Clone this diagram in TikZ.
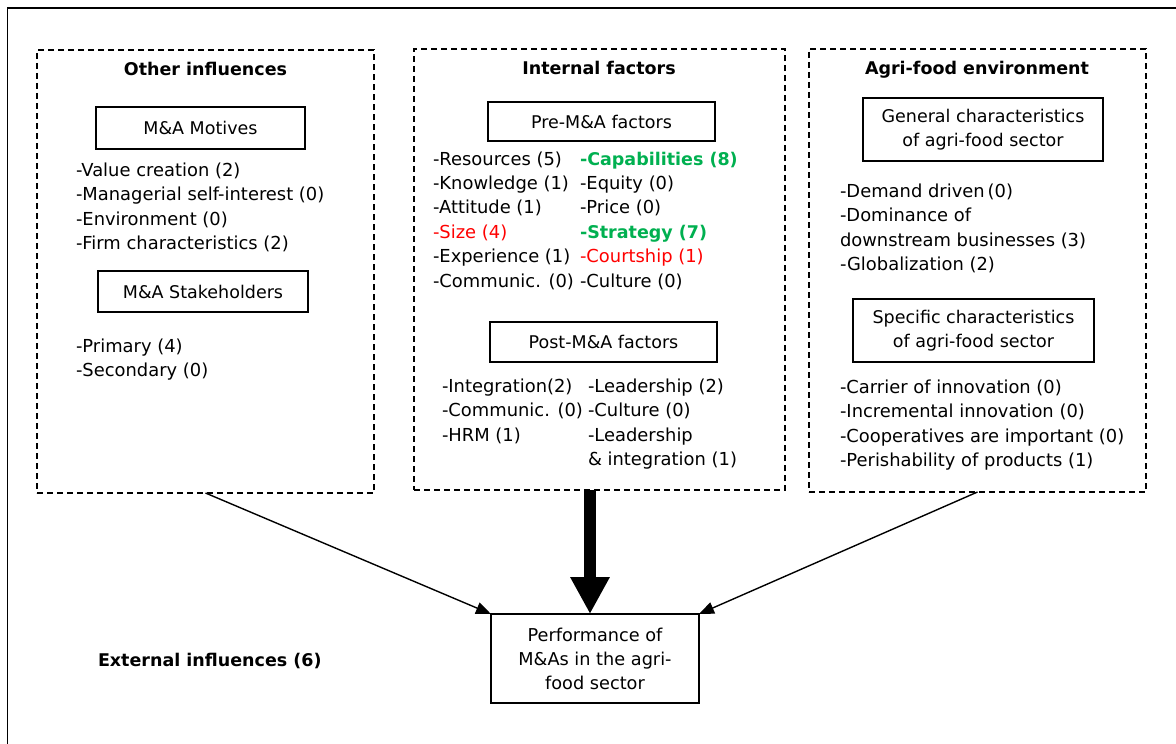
\documentclass[tikz,border=0pt]{standalone}
\usepackage{fontspec}
\setmainfont{DejaVu Sans}
\usetikzlibrary{arrows.meta}
\definecolor{hlgreen}{RGB}{0,176,80}
\definecolor{hlred}{RGB}{255,0,0}
\begin{document}
\begin{tikzpicture}[x=1pt,y=-1pt,
  every node/.style={font=\fontsize{17.5}{24.5}\selectfont, inner sep=0pt, outer sep=0pt},
  dbox/.style={draw, dash pattern=on 6pt off 4pt, line width=1.1pt},
  sbox/.style={draw, line width=1.2pt, align=center},
  item/.style={anchor=base west, font=\fontsize{17.9}{24.5}\selectfont},
  title/.style={anchor=base, font=\fontsize{17.5}{24.5}\selectfont\bfseries},
  good/.style={text=hlgreen, font=\fontsize{17.5}{24.5}\selectfont\bfseries},
  bad/.style={text=hlred},
  thin arrow/.style={line width=1.4pt, -{Triangle[length=15pt,width=12pt]}},
]
\useasboundingbox (0,0) rectangle (1176,744);
% outer frame (top and left edges)
\coordinate (fa) at (7.5,744);
\coordinate (fb) at (7.5,8);
\coordinate (fc) at (1176,8);
\draw[line width=1.5pt] (fa) -- (fb) -- (fc);

% dashed groups
\node[dbox, minimum width=337pt, minimum height=443pt] (other) at (205.5,271.5) {};
\node[dbox, minimum width=371pt, minimum height=441pt] (internal) at (599.5,269.5) {};
\node[dbox, minimum width=337pt, minimum height=443pt] (agri) at (977.5,270.5) {};

% ---- Other influences
\node[title] (t1) at (205.5,75) {Other influences};
\node[sbox, minimum width=209pt, minimum height=42pt] (motives) at (200.5,128) {M\&A Motives};
\node[item] (o1) at (76,176) {-Value creation (2)};
\node[item] (o2) at (76,200.5) {-Managerial self-interest (0)};
\node[item] (o3) at (76,225) {-Environment (0)};
\node[item] (o4) at (76,249.5) {-Firm characteristics (2)};
\node[sbox, minimum width=210pt, minimum height=41pt] (stake) at (203,291.5) {M\&A Stakeholders};
\node[item] (o5) at (76,352) {-Primary (4)};
\node[item] (o6) at (76,376.5) {-Secondary (0)};

% ---- Internal factors
\node[title] (t2) at (599,74) {Internal factors};
\node[sbox, minimum width=227pt, minimum height=39pt] (pre) at (601.5,121.5) {Pre-M\&A factors};
\node[item] (p1) at (433,165) {-Resources (5)};
\node[item] (p2) at (433,189.4) {-Knowledge (1)};
\node[item] (p3) at (433,213.8) {-Attitude (1)};
\node[item, bad] (p4) at (433,238.2) {-Size (4)};
\node[item] (p5) at (433,262.6) {-Experience (1)};
\node[item] (p6) at (433,287) {-Communic. (0)};
\node[item, good] (q1) at (580,165) {-Capabilities (8)};
\node[item] (q2) at (580,189.4) {-Equity (0)};
\node[item] (q3) at (580,213.8) {-Price (0)};
\node[item, good] (q4) at (580,238.2) {-Strategy (7)};
\node[item, bad] (q5) at (580,262.6) {-Courtship (1)};
\node[item] (q6) at (580,287) {-Culture (0)};
\node[sbox, minimum width=227pt, minimum height=40pt] (post) at (603.5,342) {Post-M\&A factors};
\node[item] (r1) at (442,392) {-Integration(2)};
\node[item] (r2) at (442,416.5) {-Communic. (0)};
\node[item] (r3) at (442,441) {-HRM (1)};
\node[item] (s1) at (588,392) {-Leadership (2)};
\node[item] (s2) at (588,416.5) {-Culture (0)};
\node[item] (s3) at (588,441) {-Leadership};
\node[item] (s4) at (588,465.5) {\& integration (1)};

% ---- Agri-food environment
\node[title] (t3) at (977,74) {Agri-food environment};
\node[sbox, minimum width=240pt, minimum height=63pt] (general) at (983,129.5) {General characteristics\\of agri-food sector};
\node[item] (g1) at (840,197) {-Demand driven\,(0)};
\node[item] (g2) at (840,221.5) {-Dominance of};
\node[item] (g3) at (840,246) {downstream businesses (3)};
\node[item] (g4) at (840,270.5) {-Globalization (2)};
\node[sbox, minimum width=241pt, minimum height=63pt] (specific) at (973.5,330.5) {Specific characteristics\\of agri-food sector};
\node[item] (h1) at (840,393) {-Carrier of innovation (0)};
\node[item] (h2) at (840,417.5) {-Incremental innovation (0)};
\node[item] (h3) at (840,442) {-Cooperatives are important (0)};
\node[item] (h4) at (840,466.5) {-Perishability of products (1)};

% ---- bottom
\node[sbox, minimum width=208pt, minimum height=89pt, font=\fontsize{17.7}{24}\selectfont] (perf) at (595,658.5) {Performance of\\M\&As in the agri-\\food sector};
\node[anchor=base west, font=\fontsize{17.5}{24.5}\selectfont\bfseries] (ext) at (98,666) {External influences (6)};

% arrows
\coordinate (ia) at (590,490);
\coordinate (ib) at (590,614);
\draw[thin arrow] (other.south) -- (perf.north west);
\draw[thin arrow] (agri.south) -- (perf.north east);
\draw[line width=12pt, -{Triangle[length=37pt,width=37pt]}] (ia) -- (ib);
\end{tikzpicture}
\end{document}
